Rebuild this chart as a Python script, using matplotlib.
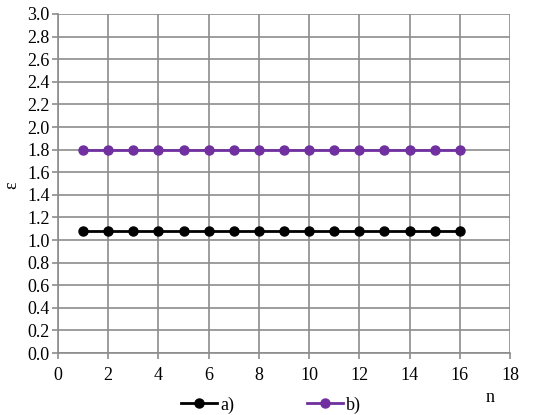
import matplotlib
matplotlib.use('Agg')
import matplotlib.pyplot as plt
import numpy as np

n = list(range(1, 17))
eps_a = [1.08] * 16
eps_b = [1.80] * 16
labels = ['a)', 'b)']

plt.rcParams['font.family'] = ['Liberation Serif', 'DejaVu Serif']

fig = plt.figure(figsize=(5.5, 4.15), dpi=100)
ax = fig.add_axes([58 / 550, 1 - 353 / 415, (510 - 58) / 550, (353 - 14) / 415])

la, = ax.plot(n, eps_a, color='black', lw=2, marker='o', ms=6.5, label=labels[0])
lb, = ax.plot(n, eps_b, color='#7030A0', lw=2, marker='o', ms=6.5, label=labels[1])

ax.set_xlim(0, 18)
ax.set_ylim(0, 3.0)
ax.set_xticks(np.arange(0, 19, 2))
ax.set_yticks(np.arange(0, 3.01, 0.2))
ax.set_yticklabels(['%.1f' % v for v in np.arange(0, 3.01, 0.2)])
ax.grid(True, color='#8c8c8c', lw=1.2)
ax.set_axisbelow(True)
for s in ['top', 'right']:
    ax.spines[s].set_visible(False)
for s in ['left', 'bottom']:
    ax.spines[s].set_color('#8c8c8c')
    ax.spines[s].set_linewidth(1.2)
ax.tick_params(axis='both', colors='#8c8c8c', labelcolor='black', labelsize=13, length=4, width=1.2)
ax.tick_params(axis='x', pad=6)
ax.tick_params(axis='y', pad=2)

fig.text(12 / 550, 1 - 185 / 415, 'ε', fontsize=13, rotation=90, ha='center', va='center')
fig.text(490 / 550, 1 - 397 / 415, 'n', fontsize=13, ha='center', va='center')

fig.legend(handles=[la, lb], loc='center', bbox_to_anchor=(271 / 550, 1 - 405 / 415),
           ncol=2, frameon=False, fontsize=13, handlelength=2, columnspacing=4,
           handletextpad=0.2, markerscale=1)

fig.savefig('out.png', dpi=100)
